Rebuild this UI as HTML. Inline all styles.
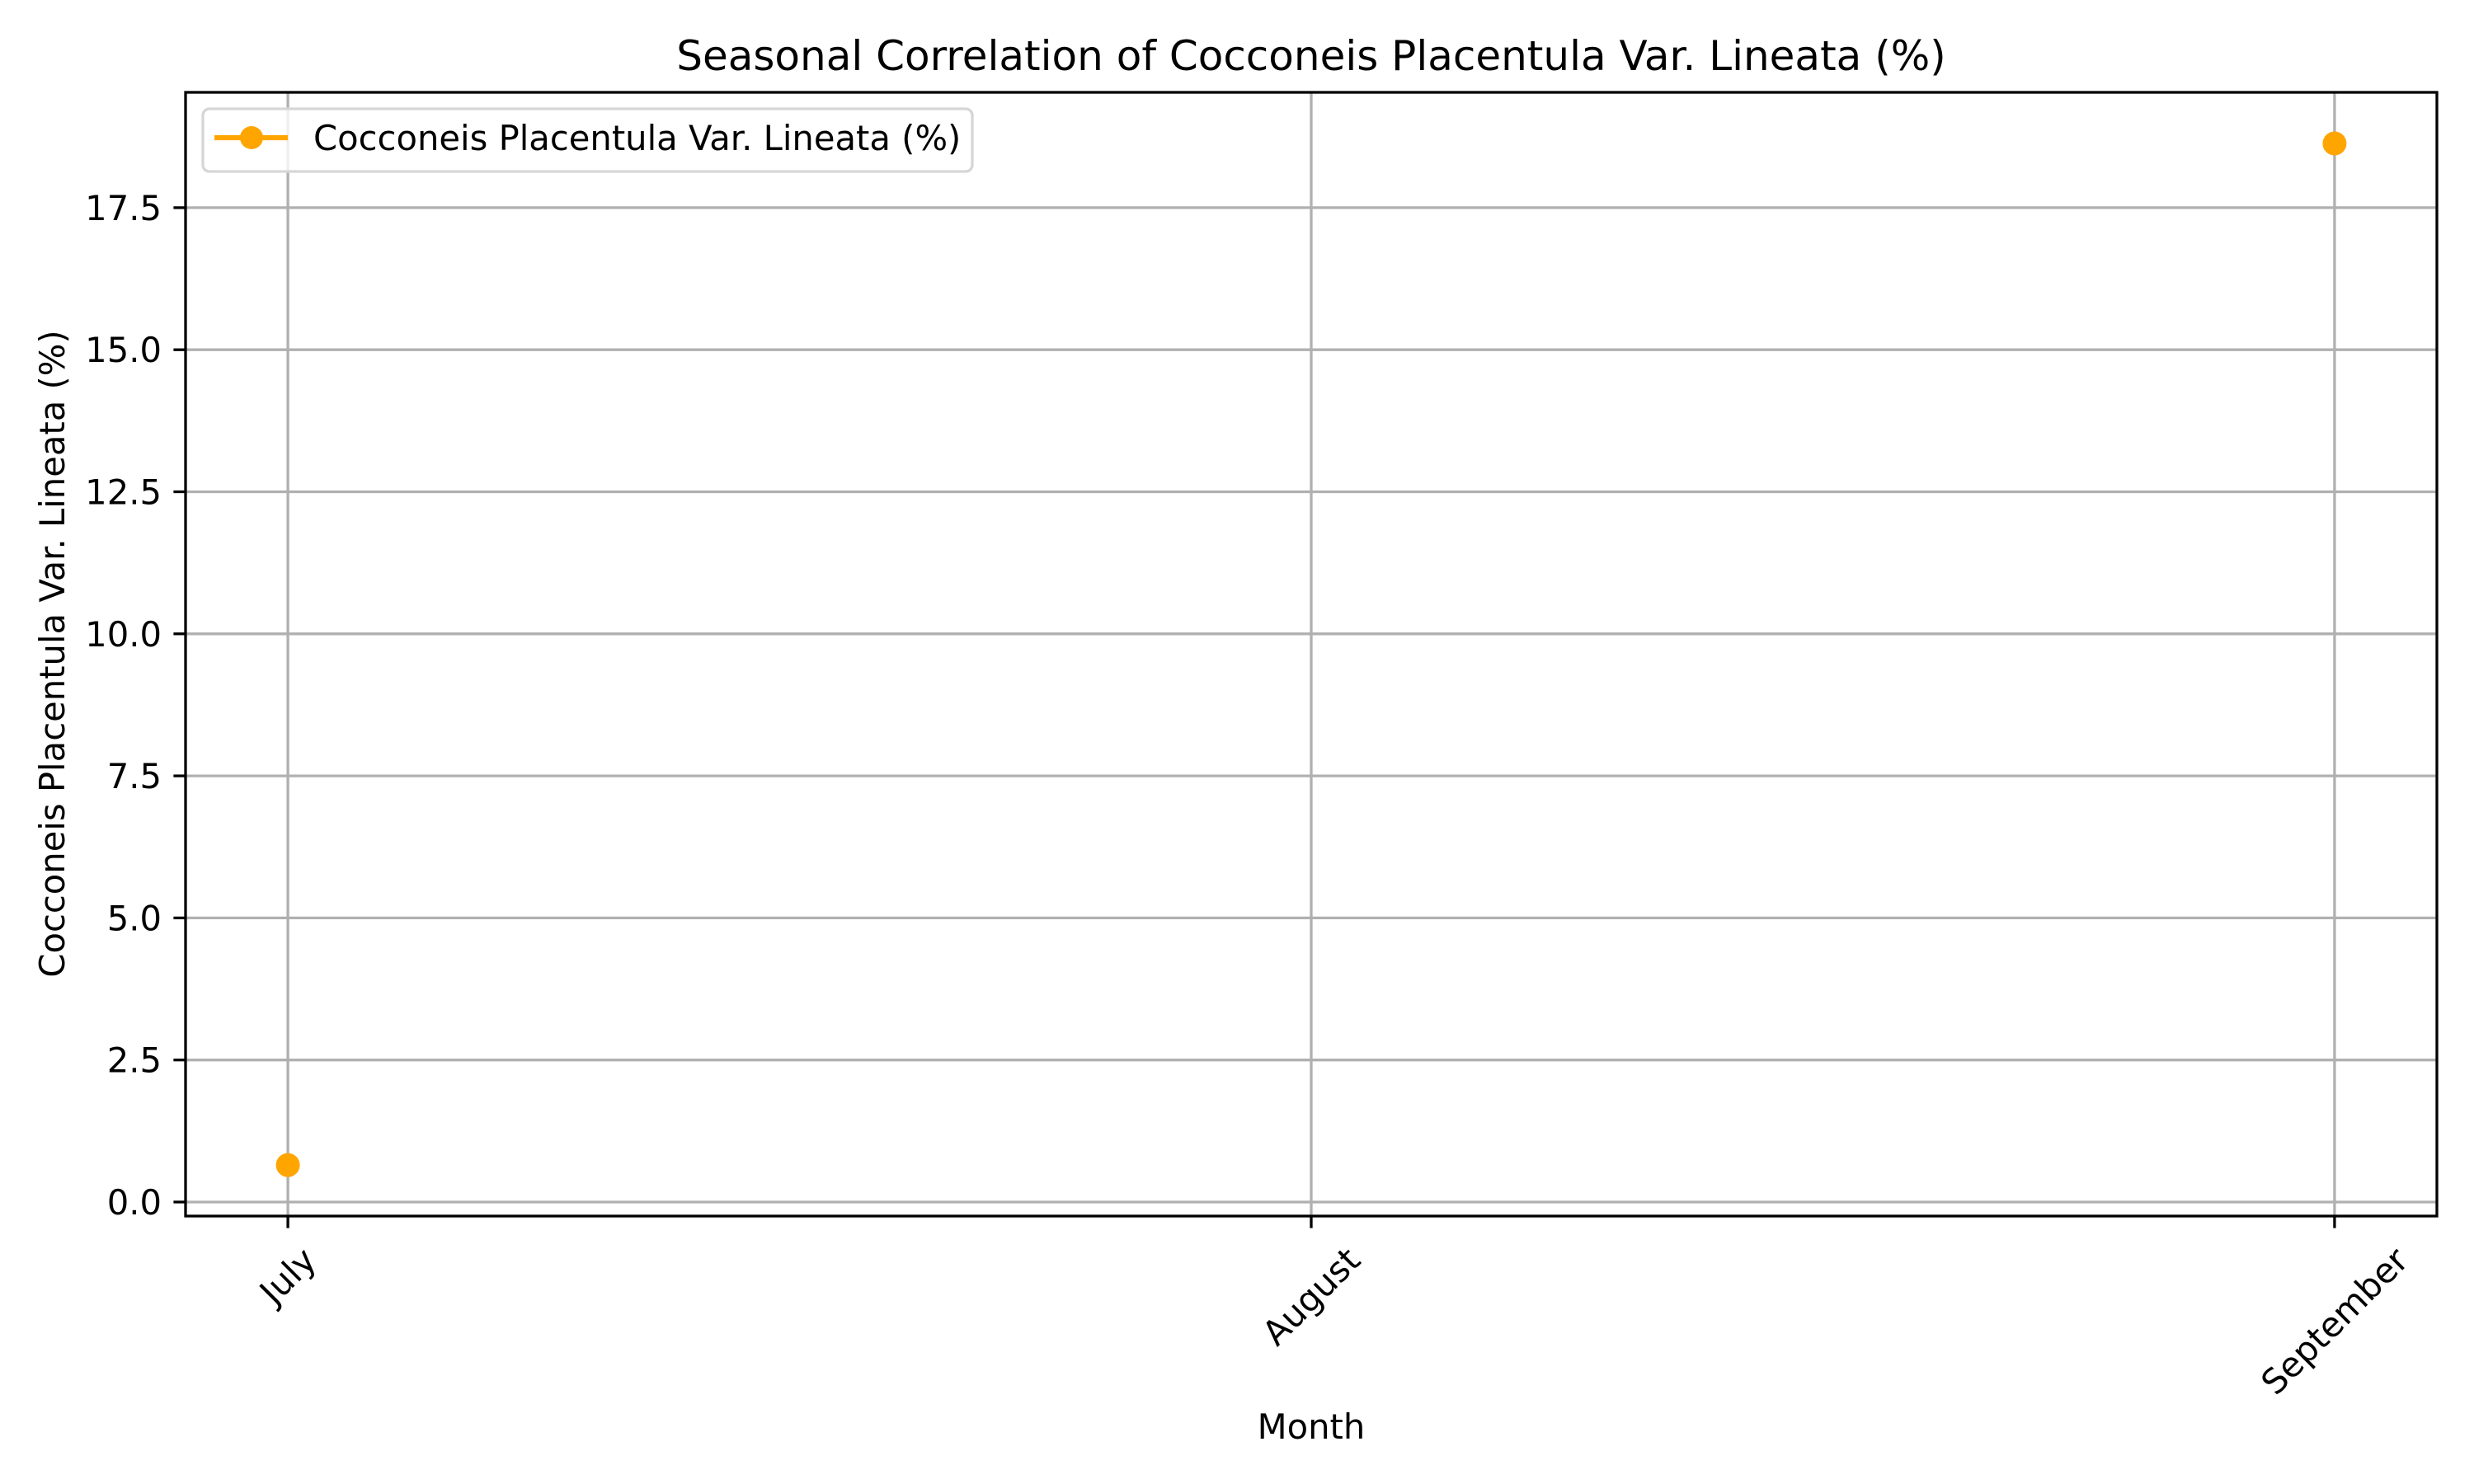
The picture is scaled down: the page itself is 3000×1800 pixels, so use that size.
<!DOCTYPE html>
<html><head><meta charset="utf-8"><style>
html,body{margin:0;padding:0;background:#fff;}
svg{display:block;font-family:"DejaVu Sans","Liberation Sans",sans-serif;}
</style></head><body>
<svg id="chart" width="3000" height="1800" viewBox="0 0 3000 1800">
<rect x="0" y="0" width="3000" height="1800" fill="#fff"/>
<g id="grid"></g>
<g id="marks"></g>
<rect x="225" y="112" width="2730" height="1363" fill="none" stroke="#000" stroke-width="3.3"/>
<g id="ticks"></g>
<text x="1590" y="85" font-size="50" text-anchor="middle">Seasonal Correlation of Cocconeis Placentula Var. Lineata (%)</text>
<text x="1590" y="1745" font-size="41.7" text-anchor="middle">Month</text>
<text x="0" y="0" font-size="41.7" text-anchor="middle" transform="translate(78,793) rotate(-90)">Cocconeis Placentula Var. Lineata (%)</text>
<g>
<rect x="246" y="132" width="933" height="76" rx="8" fill="#fff" fill-opacity="0.8" stroke="#d6d6d6" stroke-width="3.3"/>
<line x1="260" y1="167" x2="349" y2="167" stroke="#FFA500" stroke-width="6.25"/>
<circle cx="305" cy="167" r="14" fill="#FFA500"/>
<text x="380" y="182" font-size="41.7">Cocconeis Placentula Var. Lineata (%)</text>
</g>
</svg>
<script>
const categories = ["July", "August", "September"];
const values = [0.65, null, 18.63];
const yTicks = [0, 2.5, 5, 7.5, 10, 12.5, 15, 17.5];
const yTickLabels = ["0.0", "2.5", "5.0", "7.5", "10.0", "12.5", "15.0", "17.5"];

const L = 225, R = 2955, T = 112, B = 1475;
const xMin = -0.1, xMax = categories.length - 1 + 0.1;
const yMin = -0.247, yMax = 19.53;
function xs(i){ return L + (i - xMin) / (xMax - xMin) * (R - L); }
function ys(v){ return B - (v - yMin) / (yMax - yMin) * (B - T); }
const NS = "http://www.w3.org/2000/svg";
function mk(tag, attrs, parent){
  const e = document.createElementNS(NS, tag);
  for (const k in attrs) e.setAttribute(k, attrs[k]);
  parent.appendChild(e);
  return e;
}
const grid = document.getElementById('grid');
const ticks = document.getElementById('ticks');
const marks = document.getElementById('marks');

yTicks.forEach((v, i) => {
  const y = ys(v);
  const g = mk('line', {x1: L, x2: R, y1: y, y2: y, stroke: '#b0b0b0', 'stroke-width': 3.3}, grid);
  
  
  const t = mk('line', {x1: L - 14.6, x2: L, y1: y, y2: y, stroke: '#000', 'stroke-width': 3.3}, ticks);
  
  
  const lb = mk('text', {x: L - 29, y: y + 15, 'font-size': 41.7, 'text-anchor': 'end'}, ticks);
  lb.textContent = yTickLabels[i];
  
  
});

categories.forEach((c, i) => {
  const x = xs(i);
  const g = mk('line', {x1: x, x2: x, y1: T, y2: B, stroke: '#b0b0b0', 'stroke-width': 3.3}, grid);
  
  
  const t = mk('line', {x1: x, x2: x, y1: B, y2: B + 14.6, stroke: '#000', 'stroke-width': 3.3}, ticks);
  
  
  const lb = mk('text', {x: 0, y: 0, 'font-size': 41.7, 'text-anchor': 'middle', 'dominant-baseline': 'central'}, ticks);
  lb.textContent = c;
  
  
  const w = lb.getComputedTextLength ? lb.getComputedTextLength() : c.length * 25;
  const h = 48;
  const half = (w + h) * 0.7071 / 2;
  lb.setAttribute('transform', 'translate(' + x + ',' + (B + 29 + half) + ') rotate(-45)');
});

let path = '';
values.forEach((v, i) => {
  if (v === null) return;
  const prev = i > 0 ? values[i - 1] : null;
  path += (prev === null ? 'M' : 'L') + xs(i) + ',' + ys(v) + ' ';
});
if (path) {
  const p = mk('path', {d: path, fill: 'none', stroke: '#FFA500', 'stroke-width': 6.25}, marks);
  
  
}
values.forEach((v, i) => {
  if (v === null) return;
  const c = mk('circle', {cx: xs(i), cy: ys(v), r: 14.5, fill: '#FFA500'}, marks);
  
  
});
</script>
</body></html>
